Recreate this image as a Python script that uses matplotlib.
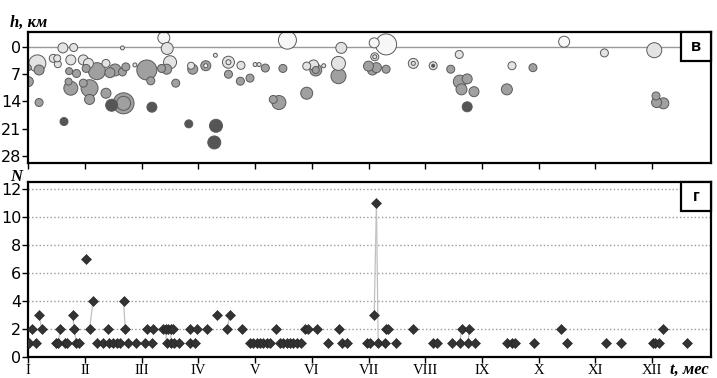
import matplotlib
matplotlib.use('Agg')
import matplotlib.pyplot as plt
from matplotlib.patches import Rectangle
import numpy as np

# --- верхняя панель: глубина очагов (месяц, h км, размер, класс) ---
quake_t = [0.00, 0.00, 0.16, 0.19, 0.19, 0.63, 0.61, 0.80, 0.44, 0.52, 0.51, 0.75,
           0.72, 0.85, 0.71, 0.75, 0.97, 1.06, 1.02, 0.97, 1.08, 1.08, 1.21, 1.37,
           1.37, 1.44, 1.47, 1.68, 1.68, 1.53, 1.66, 1.72, 1.66, 1.88, 2.09, 2.16,
           2.18, 2.39, 2.45, 2.50, 2.44, 2.35, 2.60, 2.83, 2.87, 2.90, 3.13, 3.13,
           3.30, 3.53, 3.53, 3.53, 3.31, 3.28, 3.75, 3.74, 3.91, 4.00, 4.07, 4.18,
           4.49, 4.57, 4.32, 4.42, 4.91, 4.91, 5.03, 5.07, 5.07, 5.21, 5.52, 5.47,
           5.47, 6.10, 6.31, 6.11, 6.11, 6.00, 6.07, 6.14, 6.31, 6.79, 6.79, 7.14,
           7.14, 7.60, 7.45, 7.61, 7.64, 7.74, 7.74, 7.86, 8.53, 8.90, 8.44, 9.45,
           10.16, 11.04, 11.07, 11.08, 11.20]
quake_h = [8.9, 5.3, 4.2, 5.9, 14.3, 19.2, 0.2, 0.1, 2.9, 4.4, 2.9, 3.3,
           6.2, 6.8, 8.9, 10.6, 3.3, 4.2, 5.5, 9.3, 10.6, 13.5, 6.2, 4.2,
           11.9, 6.6, 15.0, 14.5, 14.5, 5.9, 6.4, 5.1, 0.2, 4.6, 5.9, 8.7,
           15.5, -2.4, 0.35, 3.9, 5.7, 5.5, 9.3, 19.8, 4.8, 5.7, 4.8, 4.8,
           2.1, 3.9, 3.9, 7.0, 20.3, 24.6, 4.7, 8.8, 8.0, 4.5, 4.5, 5.4,
           5.5, -1.8, 13.5, 14.3, 11.9, 4.9, 4.6, 5.9, 5.9, 4.8, 0.2, 4.2,
           7.5, -1.1, -0.7, 2.5, 2.5, 4.9, 5.9, 5.3, 5.7, 4.2, 4.2, 4.8,
           4.8, 1.9, 5.7, 8.9, 10.9, 8.2, 15.4, 11.5, 4.8, 5.3, 10.9, -1.4,
           1.5, 0.8, 12.6, 14.3, 14.5]
quake_size = [5, 3, 8.5, 5, 4, 4, 5, 4, 4, 3.5, 3.5, 5,
              3.5, 4, 3.5, 7, 5, 5, 4, 4, 8.5, 5, 8.5, 4,
              5, 5, 6, 10.5, 7, 6, 4, 4, 2, 2, 10, 4,
              5, 6, 6, 6.5, 5, 4, 4, 4, 3.5, 5, 5, 2,
              2, 6, 2.5, 4, 6.5, 6.5, 4, 4, 4, 2, 2, 4,
              4, 9, 4, 7, 6, 4, 5, 6, 3.5, 2, 5.5, 7,
              7.5, 5, 10.5, 4, 2, 5, 5, 5, 4, 5, 2, 4,
              1.5, 4, 4, 6.5, 5.5, 5, 5, 5, 4, 4, 5.5, 5.5,
              4, 7.5, 4, 5, 5.5]
# 0 - над уровнем, 1 - светлые, 2 - средние, 3 - глубокие
quake_cls = [2, 2, 1, 2, 2, 3, 1, 1, 1, 1, 1, 1,
             2, 2, 2, 2, 1, 1, 2, 2, 2, 2, 2, 1,
             2, 2, 3, 2, 2, 2, 2, 2, 1, 1, 2, 2,
             3, 0, 1, 1, 2, 2, 2, 3, 1, 2, 2, 0,
             1, 1, 1, 2, 3, 3, 1, 2, 2, 1, 1, 2,
             2, 0, 2, 2, 2, 1, 1, 2, 2, 1, 1, 1,
             2, 0, 0, 1, 1, 2, 2, 2, 2, 1, 1, 1,
             3, 1, 2, 2, 2, 2, 3, 2, 1, 2, 2, 0,
             1, 1, 2, 2, 2]

# --- нижняя панель: число событий N ---
ev_t = [0.02, 0.14, 0.49, 0.53, 0.65, 0.68, 0.85, 0.90, 1.22, 1.31, 1.42, 1.50,
        1.57, 1.62, 1.75, 1.90, 2.06, 2.18, 2.44, 2.52, 2.57, 2.65, 2.86, 2.94,
        3.91, 3.97, 4.03, 4.09, 4.14, 4.21, 4.26, 4.44, 4.50, 4.56, 4.62, 4.67,
        4.74, 4.81, 5.28, 5.53, 5.62, 5.98, 6.03, 6.17, 6.29, 6.49, 7.14, 7.20,
        7.47, 7.61, 7.76, 7.88, 8.44, 8.53, 8.59, 8.91, 9.50, 10.19, 10.45, 11.01,
        11.05, 11.12, 11.62,
        0.07, 0.24, 0.56, 0.81, 1.08, 1.40, 1.71, 2.09, 2.20, 2.38, 2.42, 2.47,
        2.51, 2.56, 2.86, 2.98, 3.16, 3.51, 3.76, 4.37, 4.88, 4.93, 5.09, 5.48,
        6.30, 6.35, 6.79, 7.64, 7.77, 9.40, 11.19,
        0.19, 0.78, 3.32, 3.55, 6.10,
        1.14, 1.68, 1.02, 6.14]
ev_n = [1] * 63 + [2] * 31 + [3] * 5 + [4, 4, 7, 11]

# события одного дня, соединённые линией
links = [((1.08, 2), (1.14, 4)), ((1.68, 4), (1.71, 2)),
         ((6.14, 11), (6.10, 3)), ((6.14, 11), (6.17, 1)),
         ((3.55, 3), (3.51, 2)), ((0.19, 3), (0.24, 2)),
         ((0.78, 3), (0.81, 2)), ((0.81, 2), (0.85, 1)),
         ((0.56, 2), (0.53, 1)), ((2.42, 2), (2.44, 1)),
         ((2.51, 2), (2.52, 1)), ((7.64, 2), (7.61, 1)),
         ((7.77, 2), (7.76, 1))]

months = ['I', 'II', 'III', 'IV', 'V', 'VI', 'VII', 'VIII', 'IX', 'X', 'XI', 'XII']
h_ticks = [0, 7, 14, 21, 28]
n_ticks = [0, 2, 4, 6, 8, 10, 12]

cls_colors = {0: '#f7f7f7', 1: '#e3e3e3', 2: '#a0a0a0', 3: '#555555'}

narrow = ['Liberation Sans Narrow', 'DejaVu Sans Condensed', 'DejaVu Sans']
serif = ['Liberation Serif', 'DejaVu Serif']

fig = plt.figure(figsize=(7.17, 3.78), dpi=100)
ax1 = fig.add_axes([28.3 / 717, 1 - 163 / 378, 682.7 / 717, 131 / 378])
ax2 = fig.add_axes([28.3 / 717, 1 - 357.3 / 378, 682.7 / 717, 175.6 / 378])

xmax = 12.04

# ---------- верхняя панель ----------
order = np.argsort(quake_size)[::-1]
t_arr = np.array(quake_t)[order]
h_arr = np.array(quake_h)[order]
s_arr = (2 * np.array(quake_size)[order] * 0.72) ** 2
c_arr = [cls_colors[quake_cls[i]] for i in order]

ax1.axhline(0, color='#999999', lw=1.0, zorder=1)
ax1.scatter(t_arr, h_arr, s=s_arr, c=c_arr, edgecolors='#5a5a5a',
            linewidths=0.7, zorder=2)
ax1.set_xlim(0, xmax)
ax1.set_ylim(29.9, -3.9)
ax1.set_yticks(h_ticks)
ax1.set_yticklabels([str(v) for v in h_ticks], family=narrow, fontsize=11.5)
ax1.set_xticks(range(12))
ax1.set_xticklabels([])
ax1.tick_params(direction='out', length=4, width=1, pad=1, color='black')

# ---------- нижняя панель ----------
for (t0, n0), (t1, n1) in links:
    ax2.plot([t0, t1], [n0, n1], color='#c0c0c0', lw=0.9, zorder=2)
ax2.plot(ev_t, ev_n, linestyle='none', marker='D', ms=4.8, mfc='#333333',
         mec='#222222', mew=0.4, zorder=3)
ax2.set_xlim(0, xmax)
ax2.set_ylim(0, 12.55)
ax2.set_yticks(n_ticks)
ax2.set_yticklabels([str(v) for v in n_ticks], family=narrow, fontsize=11.5)
ax2.set_xticks(range(12))
ax2.set_xticklabels(months, family=serif, fontsize=10.5)
ax2.yaxis.grid(True, linestyle=':', color='#999999', lw=1.0)
ax2.set_axisbelow(True)
ax2.tick_params(direction='out', length=4, width=1, pad=1, color='black')
ax2.tick_params(axis='x', pad=0.5)

for ax, letter, bh in ((ax1, 'в', 29 / 131), (ax2, 'г', 29 / 175.6)):
    for sp in ax.spines.values():
        sp.set_linewidth(1.6)
    bw = 30 / 682.7
    ax.add_patch(Rectangle((1 - bw, 1 - bh), bw, bh, transform=ax.transAxes,
                           facecolor='white', edgecolor='black', lw=1.6,
                           zorder=5, clip_on=False))
    ax.text(1 - bw / 2, 1 - bh / 2, letter, transform=ax.transAxes,
            ha='center', va='center', fontsize=12, fontweight='bold',
            family=['Liberation Sans', 'DejaVu Sans'], zorder=6)

fig.text(10 / 717, 1 - 27 / 378, 'h, км', family=serif, fontsize=12,
         fontweight='bold', style='italic', va='baseline')
fig.text(10 / 717, 1 - 181 / 378, 'N', family=serif, fontsize=12,
         fontweight='bold', style='italic', va='baseline')
fig.text(670 / 717, 1 - 374 / 378, 't, мес', family=serif, fontsize=12,
         fontweight='bold', style='italic', va='baseline')

fig.savefig('out.png', dpi=100)
